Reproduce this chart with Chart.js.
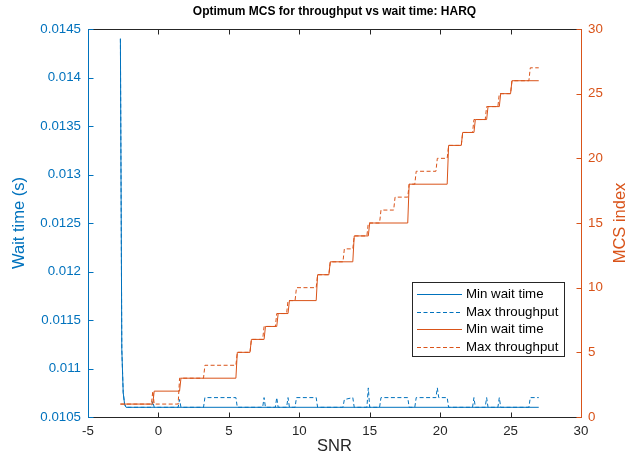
<!DOCTYPE html>
<html>
<head>
<meta charset="utf-8">
<script src="https://cdn.jsdelivr.net/npm/chart.js@4.4.0/dist/chart.umd.min.js"></script>
<style>
  html, body { margin: 0; padding: 0; background: #fff; }
</style>
</head>
<body>
<canvas id="chart" width="636" height="464"></canvas>
<script>
// Tick labels
const snrTicks = [-5, 0, 5, 10, 15, 20, 25, 30];
const waitTicks = [0.0105, 0.011, 0.0115, 0.012, 0.0125, 0.013, 0.0135, 0.014, 0.0145];
const mcsTicks = [0, 5, 10, 15, 20, 25, 30];

// Wait time (s), min wait time MCS
const waitMinSnr = [-2.7, -2.6, -2.5, -2.4, -2.3, 27.0];
const waitMin = [0.0144, 0.0112, 0.01075, 0.01063, 0.0106, 0.0106];

// Wait time (s), max throughput MCS
const waitMaxSnr = [-2.7, -2.6, -2.5, -2.4, -2.3, -0.5, -0.4, -0.3, 1.4, 1.5, 1.6, 3.2, 3.3, 5.5, 5.6,
  7.4, 7.5, 7.6, 8.3, 8.4, 8.5, 9.1, 9.2, 9.3, 9.7, 9.8, 11.2, 11.3, 13.1, 13.2, 13.8, 13.9,
  14.8, 14.9, 15.0, 15.7, 15.8, 17.7, 17.8, 18.2, 18.3, 19.7, 19.8, 19.9, 20.5, 20.6,
  22.3, 22.4, 22.5, 23.2, 23.3, 23.4, 24.1, 24.2, 24.3, 26.3, 26.4, 27.0];
const waitMax = [0.0144, 0.0112, 0.01075, 0.01063, 0.0106, 0.0106, 0.01066, 0.0106, 0.0106, 0.01068, 0.0106,
  0.0106, 0.0107, 0.0107, 0.0106, 0.0106, 0.0107, 0.0106, 0.0106, 0.0107, 0.0106, 0.0106, 0.0107, 0.0106,
  0.0106, 0.0107, 0.0107, 0.0106, 0.0106, 0.01068, 0.0107, 0.0106, 0.0106, 0.0108, 0.0106,
  0.0106, 0.0107, 0.0107, 0.0106, 0.0106, 0.0107, 0.0107, 0.0108, 0.0107, 0.0107, 0.0106,
  0.0106, 0.0107, 0.0106, 0.0106, 0.0107, 0.0106, 0.0106, 0.0107, 0.0106, 0.0106, 0.0107, 0.0107];

// MCS index, min wait time
const mcsMinSnr = [-2.7, -0.4, -0.3, 1.5, 1.6, 5.5, 5.6, 6.5, 6.6, 7.5, 7.6, 8.4, 8.5, 9.2, 9.3,
  11.2, 11.3, 12.1, 12.2, 13.8, 13.9, 14.9, 15.0, 17.7, 17.8, 20.5, 20.6, 21.5, 21.6,
  22.4, 22.5, 23.3, 23.4, 24.2, 24.3, 25.0, 25.1, 27.0];
const mcsMin = [1, 1, 2, 2, 3, 3, 5, 5, 6, 6, 7, 7, 8, 8, 9, 9, 11, 11, 12, 12, 14, 14, 15, 15,
  18, 18, 21, 21, 22, 22, 23, 23, 24, 24, 25, 25, 26, 26];

// MCS index, max throughput
const mcsMaxSnr = [-2.7, -0.5, -0.4, -0.3, 1.4, 1.5, 3.2, 3.3, 5.5, 5.6, 6.5, 6.6, 7.4, 7.5, 8.3, 8.4,
  9.1, 9.2, 9.7, 9.8, 11.2, 11.3, 12.1, 12.2, 13.1, 13.2, 13.8, 13.9, 14.8, 14.9, 15.7, 15.8,
  16.7, 16.8, 17.7, 17.8, 18.2, 18.3, 19.7, 19.8, 20.5, 20.6, 21.5, 21.6, 22.3, 22.4,
  23.2, 23.3, 24.1, 24.2, 25.0, 25.1, 26.3, 26.4, 27.0];
const mcsMax = [1, 1, 2, 1, 1, 3, 3, 4, 4, 5, 5, 6, 6, 7, 7, 8, 8, 9, 9, 10, 10, 11, 11, 12, 12, 13,
  13, 14, 14, 15, 15, 16, 16, 17, 17, 18, 18, 19, 19, 20, 20, 21, 21, 22, 22, 23, 23, 24,
  24, 25, 25, 26, 26, 27, 27];

const BLUE = '#0072BD';
const ORANGE = '#D95319';
const AXIS = '#262626';
const FONT = 'Liberation Sans, Arial, Helvetica, sans-serif';

const toPoints = (xs, ys) => xs.map((x, i) => ({ x, y: ys[i] }));
const fmtWait = v => parseFloat(v.toFixed(4)).toString();

function line(label, xs, ys, color, dashed, axis, order) {
    return {
        label,
        data: toPoints(xs, ys),
        yAxisID: axis,
        borderColor: color,
        borderWidth: 1,
        borderDash: dashed ? [4, 2.5] : [],
        pointRadius: 0,
        tension: 0,
        fill: false,
        order
    };
}

// MATLAB-like box: inward ticks, coloured side axes, titles and legend
const matlabFrame = {
    id: 'matlabFrame',
    afterDraw(chart) {
        const { ctx, chartArea: a, scales } = chart;
        const px = v => Math.round(v) + 0.5;
        const L = px(a.left), R = px(a.right), T = px(a.top), B = px(a.bottom);
        const tick = 5;
        ctx.save();
        ctx.lineWidth = 1;

        // top / bottom
        ctx.strokeStyle = AXIS;
        ctx.beginPath();
        ctx.moveTo(L, T); ctx.lineTo(R, T);
        ctx.moveTo(L, B); ctx.lineTo(R, B);
        snrTicks.forEach(v => {
            const x = px(scales.x.getPixelForValue(v));
            ctx.moveTo(x, B); ctx.lineTo(x, B - tick);
            ctx.moveTo(x, T); ctx.lineTo(x, T + tick);
        });
        ctx.stroke();

        // left axis
        ctx.strokeStyle = BLUE;
        ctx.beginPath();
        ctx.moveTo(L, T); ctx.lineTo(L, B);
        waitTicks.forEach(v => {
            const y = px(scales.y.getPixelForValue(v));
            ctx.moveTo(L, y); ctx.lineTo(L + tick, y);
        });
        ctx.stroke();

        // right axis
        ctx.strokeStyle = ORANGE;
        ctx.beginPath();
        ctx.moveTo(R, T); ctx.lineTo(R, B);
        mcsTicks.forEach(v => {
            const y = px(scales.y2.getPixelForValue(v));
            ctx.moveTo(R, y); ctx.lineTo(R - tick, y);
        });
        ctx.stroke();

        // titles
        const midX = (a.left + a.right) / 2;
        const midY = (a.top + a.bottom) / 2;
        ctx.textAlign = 'center';
        ctx.textBaseline = 'middle';
        ctx.fillStyle = '#000';
        ctx.font = 'bold 12px ' + FONT;
        ctx.fillText('Optimum MCS for throughput vs wait time: HARQ', midX, 12);

        ctx.font = '16.5px ' + FONT;
        ctx.fillStyle = AXIS;
        ctx.fillText('SNR', midX, 446);

        ctx.fillStyle = BLUE;
        ctx.save();
        ctx.translate(19, midY);
        ctx.rotate(-Math.PI / 2);
        ctx.fillText('Wait time (s)', 0, 0);
        ctx.restore();

        ctx.fillStyle = ORANGE;
        ctx.save();
        ctx.translate(620, midY);
        ctx.rotate(-Math.PI / 2);
        ctx.fillText('MCS index', 0, 0);
        ctx.restore();

        // legend
        const lx = 412.5, ly = 282.5, lw = 152, lh = 74;
        ctx.fillStyle = '#fff';
        ctx.fillRect(lx, ly, lw, lh);
        ctx.strokeStyle = AXIS;
        ctx.strokeRect(lx, ly, lw, lh);
        ctx.font = '13.3px ' + FONT;
        ctx.textAlign = 'left';
        chart.data.datasets.forEach((ds, i) => {
            const y = Math.round(294 + i * 17.6) + 0.5;
            ctx.strokeStyle = ds.borderColor;
            ctx.setLineDash(ds.borderDash);
            ctx.beginPath();
            ctx.moveTo(417, y); ctx.lineTo(462, y);
            ctx.stroke();
            ctx.setLineDash([]);
            ctx.fillStyle = '#000';
            ctx.fillText(ds.label, 466, y);
        });
        ctx.restore();
    }
};

const tickFont = { family: FONT, size: 13.3 };
const noGrid = { display: false, drawTicks: false, tickLength: 0 };

new Chart(document.getElementById('chart'), {
    type: 'line',
    data: {
        datasets: [
            line('Min wait time', waitMinSnr, waitMin, BLUE, false, 'y', 2),
            line('Max throughput', waitMaxSnr, waitMax, BLUE, true, 'y', 2),
            line('Min wait time', mcsMinSnr, mcsMin, ORANGE, false, 'y2', 1),
            line('Max throughput', mcsMaxSnr, mcsMax, ORANGE, true, 'y2', 1)
        ]
    },
    options: {
        responsive: false,
        animation: false,
        layout: { padding: { top: 29, left: 0, right: 0, bottom: 0 } },
        plugins: {
            legend: { display: false },
            title: { display: false },
            tooltip: { enabled: false }
        },
        scales: {
            x: {
                type: 'linear',
                min: -5,
                max: 30,
                afterBuildTicks: s => { s.ticks = snrTicks.map(value => ({ value })); },
                afterFit: s => { s.height = 47; },
                grid: noGrid,
                border: { display: false },
                ticks: { color: AXIS, font: tickFont, padding: 6, maxRotation: 0, autoSkip: false }
            },
            y: {
                type: 'linear',
                position: 'left',
                min: 0.0105,
                max: 0.0145,
                afterBuildTicks: s => { s.ticks = waitTicks.map(value => ({ value })); },
                afterFit: s => { s.width = 88; },
                grid: noGrid,
                border: { display: false },
                ticks: { color: BLUE, font: tickFont, padding: 7, callback: fmtWait }
            },
            y2: {
                type: 'linear',
                position: 'right',
                min: 0,
                max: 30,
                afterBuildTicks: s => { s.ticks = mcsTicks.map(value => ({ value })); },
                afterFit: s => { s.width = 55; },
                grid: noGrid,
                border: { display: false },
                ticks: { color: ORANGE, font: tickFont, padding: 7 }
            }
        }
    },
    plugins: [matlabFrame]
});
</script>
</body>
</html>
